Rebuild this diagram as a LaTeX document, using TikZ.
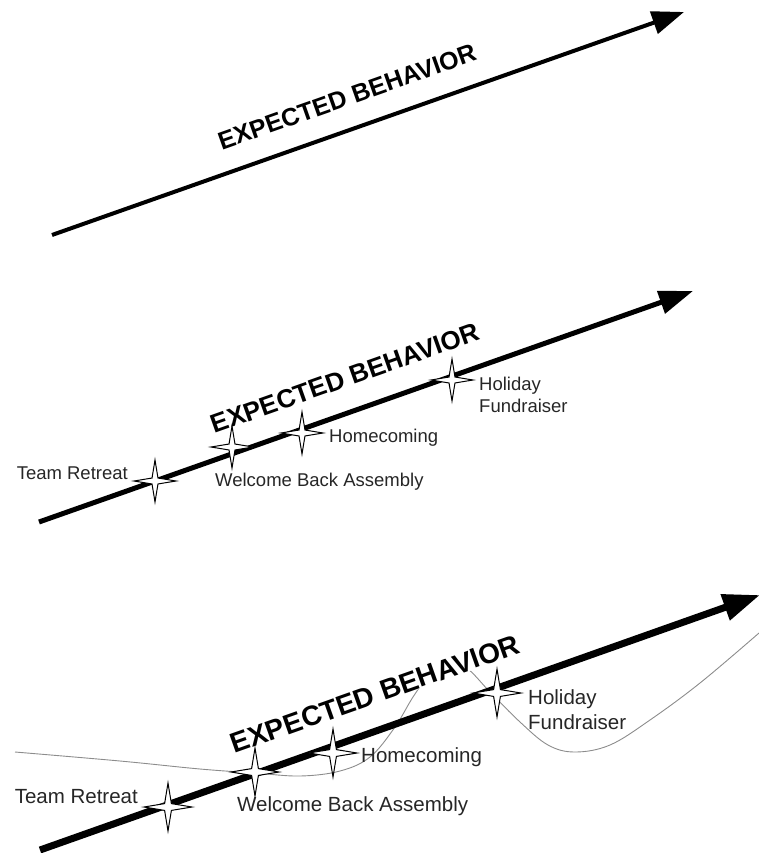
\documentclass[tikz,border=0pt]{standalone}
\usepackage{fontspec}
\setmainfont{Liberation Sans}
\usetikzlibrary{arrows.meta,shapes.geometric}

\tikzset{
    sparkle/.style={star, star points=4, star point ratio=5, draw, fill=white,
        line width=1pt, inner sep=0pt, minimum size=#1},
    event/.style={font=\fontsize{#1}{#1}\selectfont, text=black!85, inner sep=0pt},
    headline/.style={font=\bfseries\fontsize{#1}{#1}\selectfont, rotate=19.5, inner sep=0pt},
    trend/.style={draw=black!45, line width=0.9pt},
}

\begin{document}
\begin{tikzpicture}[x=1pt, y=-1pt]
    \useasboundingbox (0,0) rectangle (759,853);

    % top
    \coordinate (s1) at (52,235);
    \coordinate (e1) at (684,12);
    \draw[line width=4pt, -{Triangle[length=32pt, width=23pt]}] (s1) -- (e1);
    \node[headline=25pt] (h1) at (347,97) {EXPECTED BEHAVIOR};

    % middle
    \coordinate (s2) at (39,522);
    \coordinate (e2) at (693,291);
    \node[headline=26pt] (h2) at (345,378) {EXPECTED BEHAVIOR};
    \draw[line width=5pt, -{Triangle[length=34pt, width=23pt]}] (s2) -- (e2);
    \foreach \n/\x/\y in {tr/155/481, wb/232/447, hc/302/433, hf/452/380}
        \node[sparkle=42pt] (\n2) at (\x,\y) {};
    \node[event=18.5pt, anchor=base east] (ltr2) at (128,479.5) {Team Retreat};
    \node[event=18.5pt, anchor=base west] (lwb2) at (215,486.5) {Welcome Back Assembly};
    \node[event=18.5pt, anchor=base west] (lhc2) at (329,442.5) {Homecoming};
    \node[event=18.5pt, anchor=base west] (lhf2) at (479,390.5) {Holiday};
    \node[event=18.5pt, anchor=base west] (lhg2) at (479,412.5) {Fundraiser};

    % bottom
    \draw[trend] plot[smooth, tension=0.6] coordinates {(15,752) (120,761) (200,769) (255,773)
        (300,776) (340,771) (370,757) (395,727) (415,694) (440,662) (465,667) (490,692)
        (520,722) (548,745) (575,752) (610,745) (650,720) (700,683) (759,633)};
    \coordinate (s3) at (40,850);
    \coordinate (e3) at (760,595);
    \node[headline=28pt, fill=white] (h3) at (375,694) {EXPECTED BEHAVIOR};
    \draw[line width=7pt, -{Triangle[length=37pt, width=26pt]}] (s3) -- (e3);
    \foreach \n/\x/\y in {tr/168/807, wb/255/772, hc/333/753, hf/497/693}
        \node[sparkle=48pt] (\n3) at (\x,\y) {};
    \node[event=20.5pt, anchor=base east] (ltr3) at (138,803.5) {Team Retreat};
    \node[event=20.5pt, anchor=base west] (lwb3) at (237,811) {Welcome Back Assembly};
    \node[event=20.5pt, anchor=base west] (lhc3) at (361,762) {Homecoming};
    \node[event=20.5pt, anchor=base west] (lhf3) at (528,704) {Holiday};
    \node[event=20.5pt, anchor=base west] (lhg3) at (528,729) {Fundraiser};
\end{tikzpicture}
\end{document}
